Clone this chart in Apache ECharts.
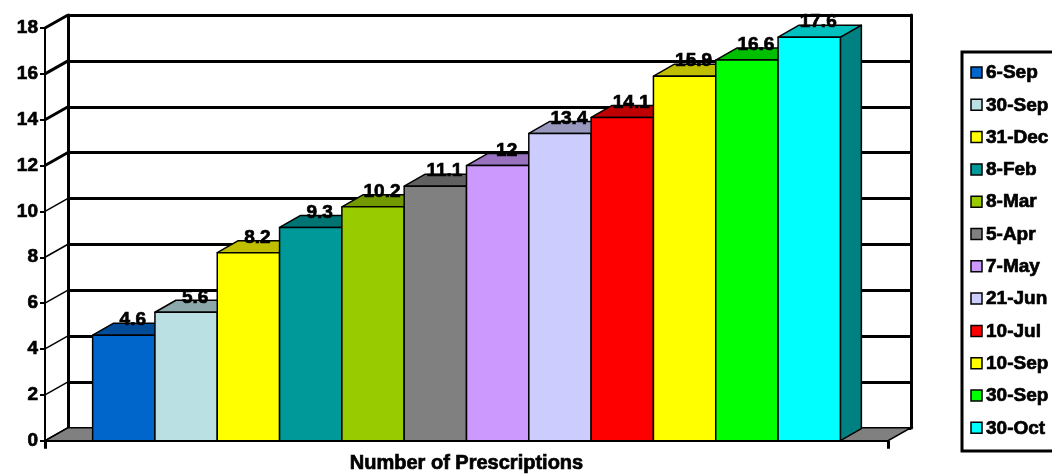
<!DOCTYPE html>
<html>
<head>
<meta charset="utf-8">
<script src="https://cdn.jsdelivr.net/npm/echarts@6/dist/echarts.min.js"></script>
<style>
  html, body { margin: 0; padding: 0; background: #ffffff; }
  #chart { width: 1052px; height: 474px; }
</style>
</head>
<body>
<div id="chart"></div>
<script>
// ---- data ----
const categories = ['Number of Prescriptions'];
const seriesNames = ['6-Sep', '30-Sep', '31-Dec', '8-Feb', '8-Mar', '5-Apr', '7-May', '21-Jun', '10-Jul', '10-Sep', '30-Sep', '30-Oct'];
const seriesValues = [4.6, 5.6, 8.2, 9.3, 10.2, 11.1, 12, 13.4, 14.1, 15.9, 16.6, 17.6];
const yTicks = [0, 2, 4, 6, 8, 10, 12, 14, 16, 18];

// ---- styling ----
const frontColors = ['#0066cc', '#bbe0e3', '#ffff00', '#009999', '#99cc00', '#808080', '#cc99ff', '#ccccff', '#ff0000', '#ffff00', '#00ff00', '#00ffff'];
const topColors   = ['#004c99', '#8ca8aa', '#bfbf00', '#007373', '#739900', '#606060', '#9973bf', '#9999bf', '#bf0000', '#bfbf00', '#00bf00', '#00bfbf'];
const sideColors  = ['#003366', '#5e7072', '#808000', '#004d4d', '#4d6600', '#404040', '#664d80', '#666680', '#800000', '#808000', '#008000', '#008080'];

const FONT = '"Liberation Sans", Arial, sans-serif';
const WALL_DX = 23, WALL_DY = -13;   // depth of the plot box
const BAR_DX = 21, BAR_DY = -12;     // depth of each bar
const FILL_RATIO = 0.887;            // share of the category band covered by the bars
const HEAVY_LABEL = { textBorderColor: '#000', textBorderWidth: 0.7 };  // axis label outline
const HEAVY_TEXT = { stroke: '#000', lineWidth: 0.7 };                  // graphic text outline

const chart = echarts.init(document.getElementById('chart'), null, { renderer: 'canvas' });

// Floor and left wall diagonals
function renderWalls(params, api) {
  const cs = params.coordSys;
  const x0 = cs.x, x1 = cs.x + cs.width;
  const yb = api.coord([0, 0])[1];
  const children = [];
  children.push({
    type: 'polygon',
    shape: { points: [[x0, yb], [x1, yb], [x1 + WALL_DX, yb + WALL_DY], [x0 + WALL_DX, yb + WALL_DY]] },
    style: { fill: '#808080', stroke: '#000', lineWidth: 1.5 }
  });
  yTicks.forEach(function (v) {
    const y = api.coord([0, v])[1];
    children.push({
      type: 'line',
      shape: { x1: x0, y1: y, x2: x0 + WALL_DX, y2: y + WALL_DY },
      style: { stroke: '#000', lineWidth: v >= 12 ? 3 : 1.5 }
    });
  });
  return { type: 'group', children: children };
}

function makeBarRenderer(i) {
  return function (params, api) {
    const base = api.coord([api.value(0), 0]);
    const top = api.coord([api.value(0), api.value(1)]);
    const band = api.size([1, 0])[0];
    const total = band * FILL_RATIO;
    const bw = total / seriesValues.length;
    const x0 = base[0] - total / 2 + i * bw;
    const x1 = x0 + bw;
    const yt = top[1], yb = base[1];
    const st = { stroke: '#000', lineWidth: 1.5, lineJoin: 'round' };
    return {
      type: 'group',
      children: [
        { type: 'polygon', shape: { points: [[x1, yt], [x1 + BAR_DX, yt + BAR_DY], [x1 + BAR_DX, yb + BAR_DY], [x1, yb]] },
          style: Object.assign({ fill: sideColors[i] }, st) },
        { type: 'polygon', shape: { points: [[x0, yt], [x1, yt], [x1 + BAR_DX, yt + BAR_DY], [x0 + BAR_DX, yt + BAR_DY]] },
          style: Object.assign({ fill: topColors[i] }, st) },
        { type: 'rect', shape: { x: x0, y: yt, width: bw, height: yb - yt },
          style: Object.assign({ fill: frontColors[i] }, st) },
        { type: 'text', z2: 100,
          style: Object.assign({ text: String(seriesValues[i]), x: x0 + bw / 2 + 9, y: yt - 15,
                   align: 'center', verticalAlign: 'middle',
                   font: 'bold 19px ' + FONT, fill: '#000' }, HEAVY_TEXT) }
      ]
    };
  };
}

const series = [{
  type: 'custom', name: '_walls', xAxisIndex: 0, yAxisIndex: 0, z: 1, silent: true,
  renderItem: renderWalls, data: [[0, 0]]
}];
seriesValues.forEach(function (v, i) {
  series.push({
    type: 'custom', name: seriesNames[i], xAxisIndex: 0, yAxisIndex: 0, z: 2 + i * 0.01,
    renderItem: makeBarRenderer(i), data: [[0, v]], silent: true
  });
});

// Legend built from the series names and colours
const legendTop = 52, legendStep = 32.3;
const legendChildren = [{
  type: 'rect', shape: { x: 962, y: legendTop, width: 120, height: 399 },
  style: { fill: '#fff', stroke: '#000', lineWidth: 3 }
}];
seriesNames.forEach(function (name, i) {
  const cy = legendTop + 21 + i * legendStep;
  legendChildren.push({
    type: 'rect', shape: { x: 971, y: cy - 6, width: 11, height: 11 },
    style: { fill: frontColors[i], stroke: '#000', lineWidth: 1.5 }
  });
  legendChildren.push({
    type: 'text',
    style: Object.assign({ text: name, x: 986, y: cy, verticalAlign: 'middle', align: 'left',
             font: 'bold 19px ' + FONT, fill: '#000' }, HEAVY_TEXT)
  });
});

const option = {
  backgroundColor: '#ffffff',
  animation: false,
  grid: [
    { left: 45, top: 28, width: 843, height: 413, containLabel: false },
    { left: 45 + WALL_DX, top: 28 + WALL_DY, width: 843, height: 413, containLabel: false }
  ],
  xAxis: [
    { type: 'category', gridIndex: 0, data: categories,
      axisLine: { lineStyle: { color: '#000', width: 2 } },
      axisTick: { show: true, length: 8, lineStyle: { color: '#000', width: 3 } },
      axisLabel: Object.assign({ margin: 13, color: '#000', fontFamily: FONT, fontWeight: 'bold', fontSize: 20 }, HEAVY_LABEL) },
    { type: 'category', gridIndex: 1, data: categories, show: false }
  ],
  yAxis: [
    { type: 'value', gridIndex: 0, min: 0, max: 18, interval: 2,
      axisLine: { show: true, lineStyle: { color: '#000', width: 2 } },
      axisTick: { show: true, length: 5, lineStyle: { color: '#000', width: 2 } },
      axisLabel: Object.assign({ margin: 7, color: '#000', fontFamily: FONT, fontWeight: 'bold', fontSize: 19 }, HEAVY_LABEL),
      splitLine: { show: false } },
    { type: 'value', gridIndex: 1, min: 0, max: 18, interval: 2, position: 'left',
      axisLine: { show: true, lineStyle: { color: '#000', width: 3 } },
      axisTick: { show: false }, axisLabel: { show: false },
      splitLine: { show: true, lineStyle: { color: '#000', width: 3 } } },
    { type: 'value', gridIndex: 1, min: 0, max: 18, interval: 2, position: 'right',
      axisLine: { show: true, lineStyle: { color: '#000', width: 3 } },
      axisTick: { show: false }, axisLabel: { show: false }, splitLine: { show: false } }
  ],
  graphic: [{ type: 'group', children: legendChildren }],
  series: series
};

chart.setOption(option);
</script>
</body>
</html>
